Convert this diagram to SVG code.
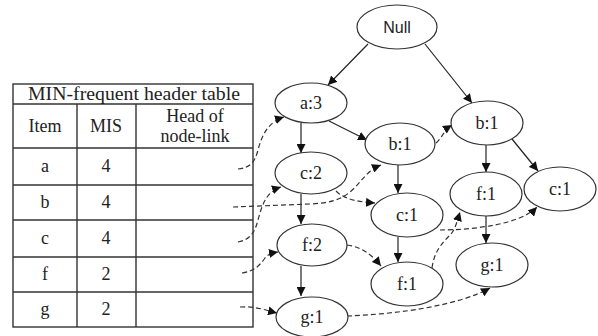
<svg xmlns="http://www.w3.org/2000/svg" width="598" height="336" viewBox="0 0 598 336">
<defs>
<marker id="ah" viewBox="0 0 10 10" refX="10" refY="5" markerWidth="9" markerHeight="9" markerUnits="userSpaceOnUse" orient="auto">
<path d="M0,0 L10,5 L0,10 z" fill="#111"/>
</marker>
<style>
.tbl{fill:none;stroke:#333;stroke-width:1.4}
.tt{font-family:"Liberation Serif","Times New Roman",serif;font-size:18px;fill:#222;text-anchor:middle}
.nd ellipse{fill:#fff;stroke:#333;stroke-width:1.2}
.nd text{font-family:"Liberation Serif","Times New Roman",serif;font-size:18px;fill:#222;text-anchor:middle}
.solid{fill:none;stroke:#222;stroke-width:1.2;marker-end:url(#ah)}
.dash{fill:none;stroke:#333;stroke-width:1.2;stroke-dasharray:5,3;marker-end:url(#ah)}
</style>
</defs>
<rect width="598" height="336" fill="#fff"/>

<g id="table">
<rect class="tbl" x="13" y="84" width="240" height="243"/>
<line class="tbl" x1="13" y1="104" x2="253" y2="104"/>
<line class="tbl" x1="13" y1="148" x2="253" y2="148"/>
<line class="tbl" x1="13" y1="185" x2="253" y2="185"/>
<line class="tbl" x1="13" y1="220" x2="253" y2="220"/>
<line class="tbl" x1="13" y1="257" x2="253" y2="257"/>
<line class="tbl" x1="13" y1="292" x2="253" y2="292"/>
<line class="tbl" x1="77" y1="104" x2="77" y2="327"/>
<line class="tbl" x1="136" y1="104" x2="136" y2="327"/>
<text class="tt" x="134" y="100" textLength="212" lengthAdjust="spacingAndGlyphs">MIN-frequent header table</text>
<text class="tt" x="45" y="132">Item</text>
<text class="tt" x="106" y="132">MIS</text>
<text class="tt" x="195" y="122">Head of</text>
<text class="tt" x="195" y="142">node-link</text>
<text class="tt" x="45" y="172">a</text><text class="tt" x="106" y="172">4</text>
<text class="tt" x="45" y="208">b</text><text class="tt" x="106" y="208">4</text>
<text class="tt" x="45" y="244">c</text><text class="tt" x="106" y="244">4</text>
<text class="tt" x="45" y="280">f</text><text class="tt" x="106" y="280">2</text>
<text class="tt" x="45" y="315">g</text><text class="tt" x="106" y="315">2</text>
</g>

<g id="connectors">
<line class="solid" x1="368" y1="44" x2="328" y2="85"/>
<line class="solid" x1="425" y1="44" x2="472" y2="103"/>
<line class="solid" x1="301" y1="123" x2="301" y2="153"/>
<line class="solid" x1="329" y1="121" x2="367" y2="140"/>
<line class="solid" x1="398" y1="165" x2="398" y2="193"/>
<line class="solid" x1="486" y1="145" x2="486" y2="172"/>
<line class="solid" x1="512" y1="139" x2="538" y2="171"/>
<line class="solid" x1="301" y1="194" x2="301" y2="224"/>
<line class="solid" x1="301" y1="266" x2="301" y2="296"/>
<line class="solid" x1="398" y1="237" x2="398" y2="262"/>
<line class="solid" x1="486" y1="216" x2="486" y2="243"/>

<path class="dash" d="M238,169 C250,168 255,162 258,150 C262,135 268,122 284,117"/>
<path class="dash" d="M233,207 L310,204 C330,203 340,200 350,192 C362,182 366,171 381,165"/>
<path class="dash" d="M238,242 C250,240 255,232 258,220 C262,205 266,192 281,187"/>
<path class="dash" d="M242,273 C255,271 260,265 265,258 C268,254 272,253 278,252"/>
<path class="dash" d="M240,307 C255,306 265,310 277,313"/>
<path class="dash" d="M336,191 C345,200 360,202 375,203"/>
<path class="dash" d="M347,245 C362,247 372,255 381,266"/>
<path class="dash" d="M436,143 C442,138 444,130 452,125"/>
<path class="dash" d="M432,268 C434,252 442,243 450,235 C455,230 457,222 460,212"/>
<path class="dash" d="M440,230 C470,230 520,225 537,207"/>
<path class="dash" d="M347,316 C400,314 460,305 490,288"/>
</g>

<g id="n_null" class="nd"><ellipse cx="397" cy="27" rx="40" ry="22"/><text x="397" y="33" style="font-family:'Liberation Sans',Arial,sans-serif;font-size:16px">Null</text></g>
<g id="n_a3" class="nd"><ellipse cx="311" cy="103" rx="36" ry="20"/><text x="311" y="109">a:3</text></g>
<g id="n_b1a" class="nd"><ellipse cx="400" cy="144" rx="35" ry="21"/><text x="400" y="150">b:1</text></g>
<g id="n_b1b" class="nd"><ellipse cx="487" cy="123" rx="36" ry="22"/><text x="487" y="129">b:1</text></g>
<g id="n_c2" class="nd"><ellipse cx="311" cy="173" rx="36" ry="21"/><text x="311" y="179">c:2</text></g>
<g id="n_c1a" class="nd"><ellipse cx="407" cy="215" rx="36" ry="22"/><text x="407" y="221">c:1</text></g>
<g id="n_f1b" class="nd"><ellipse cx="486" cy="194" rx="36" ry="22"/><text x="486" y="200">f:1</text></g>
<g id="n_c1b" class="nd"><ellipse cx="560" cy="189" rx="36" ry="22"/><text x="560" y="195">c:1</text></g>
<g id="n_f2" class="nd"><ellipse cx="312" cy="245" rx="35" ry="21"/><text x="312" y="251">f:2</text></g>
<g id="n_f1a" class="nd"><ellipse cx="407" cy="284" rx="36" ry="22"/><text x="407" y="290">f:1</text></g>
<g id="n_g1b" class="nd"><ellipse cx="492" cy="265" rx="36" ry="22"/><text x="492" y="271">g:1</text></g>
<g id="n_g1a" class="nd"><ellipse cx="312" cy="317" rx="36" ry="20"/><text x="312" y="323">g:1</text></g>
</svg>
